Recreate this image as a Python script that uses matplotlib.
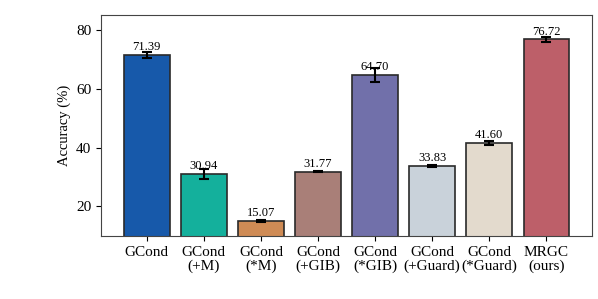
import numpy as np
import matplotlib.pyplot as plt

plt.rcParams['font.family'] = ['Liberation Serif', 'DejaVu Serif']

methods = ['GCond', 'GCond\n(+M)', 'GCond\n(*M)', 'GCond\n(+GIB)', 'GCond\n(*GIB)',
           'GCond\n(+Guard)', 'GCond\n(*Guard)', 'MRGC\n(ours)']
acc = [71.39, 30.94, 15.07, 31.77, 64.70, 33.83, 41.60, 76.72]
err = [0.9, 1.7, 0.3, 0.2, 2.3, 0.3, 0.7, 0.85]
colors = ['#1759aa', '#14b09c', '#cf8b55', '#a97f78', '#7170aa',
          '#c9d2da', '#e3dacd', '#bd5f69']

fig = plt.figure(figsize=(5.98, 2.99), dpi=100)
ax = fig.add_axes([0.169, 0.211, 0.821, 0.739])
x = np.arange(len(acc))
ax.bar(x, acc, width=0.8, color=colors, edgecolor='#2a2a2a', linewidth=1.2,
       yerr=err, capsize=3.5, error_kw=dict(elinewidth=1.5, capthick=1.5, ecolor='black'))
for xi, v, e in zip(x, acc, err):
    ax.text(xi, v + 0.6, f'{v:.2f}', ha='center', va='bottom', fontsize=9)

ax.set_xlim(-0.8, 7.8)
ax.set_ylim(10, 85)
ax.set_yticks([20, 40, 60, 80])
ax.set_xticks(x)
ax.set_xticklabels(methods, fontsize=11, linespacing=1.1)
ax.tick_params(axis='y', labelsize=11)
ax.set_ylabel('Accuracy (%)', fontsize=10.5)
for s in ax.spines.values():
    s.set_color('#444444')
plt.savefig('out.png', dpi=100)
